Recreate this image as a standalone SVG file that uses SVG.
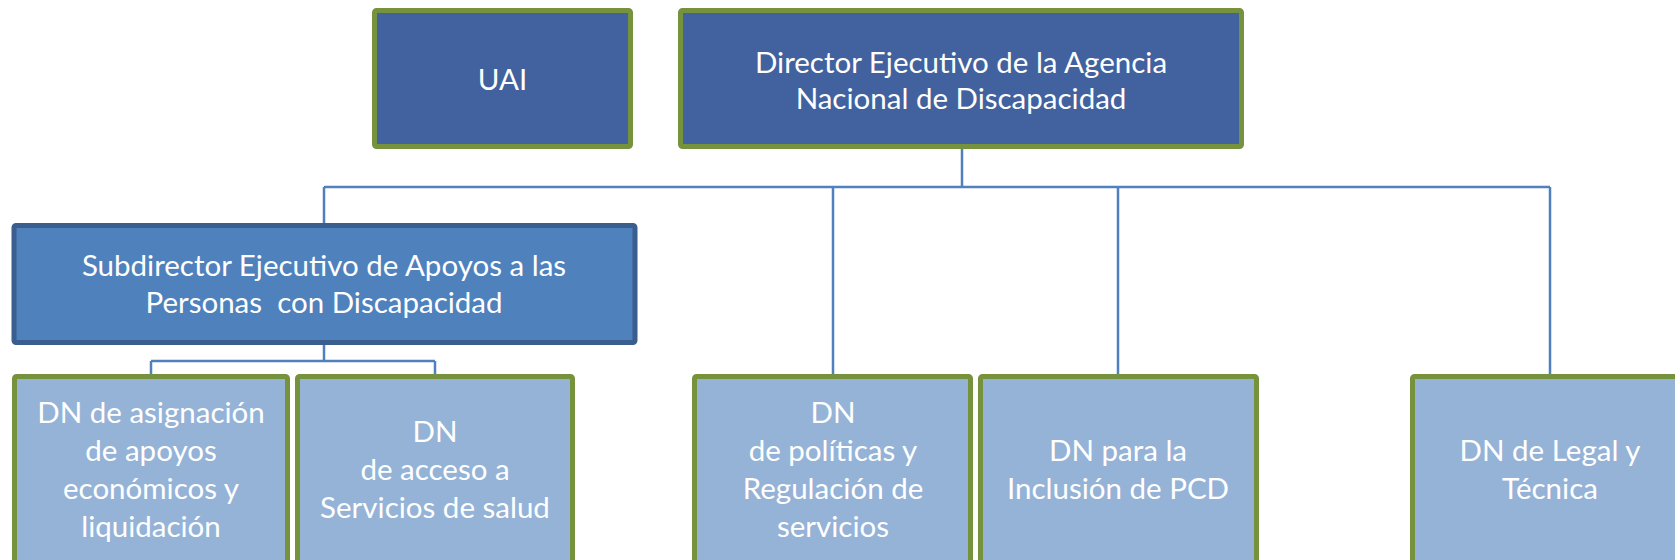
<svg xmlns="http://www.w3.org/2000/svg" width="1675" height="560" viewBox="0 0 1675 560">
<style>
.top{fill:#41629E;stroke:#76923C;stroke-width:5}
.sub{fill:#4F81BD;stroke:#3A5F8F;stroke-width:5}
.dn{fill:#95B3D7;stroke:#76923C;stroke-width:5}
.lbl{font-family:Lato,"Liberation Sans",sans-serif;font-size:29.5px;fill:#FFFFFF;text-anchor:middle}
.con{fill:none;stroke:#4F81BD;stroke-width:2.5}
</style>
<rect width="1675" height="560" fill="#FFFFFF"/>
<g id="connectors">
<path class="con" d="M962 149V187M324 187H1550M324 187V223M833 187V374M1118 187V374M1550 187V374"/>
<path class="con" d="M324 345V361M151 361H435M151 361V374M435 361V374"/>
</g>
<g id="uai">
<rect class="top" x="374.5" y="10.5" width="256" height="136" rx="2"/>
<text class="lbl" x="502.5" y="90">UAI</text>
</g>
<g id="director">
<rect class="top" x="680.5" y="10.5" width="561" height="136" rx="2"/>
<text class="lbl" x="961" y="73">Director Ejecutivo de la Agencia</text>
<text class="lbl" x="961" y="109">Nacional de Discapacidad</text>
</g>
<g id="subdirector">
<rect class="sub" x="14" y="225.5" width="621" height="117" rx="2"/>
<text class="lbl" x="324" y="276">Subdirector Ejecutivo de Apoyos a las</text>
<text class="lbl" x="324" y="313" xml:space="preserve">Personas  con Discapacidad</text>
</g>
<g id="dn-asignacion">
<rect class="dn" x="14.5" y="376.5" width="273" height="200" rx="2"/>
<text class="lbl" x="151" y="423">DN de asignación</text>
<text class="lbl" x="151" y="461">de apoyos</text>
<text class="lbl" x="151" y="499">económicos y</text>
<text class="lbl" x="151" y="537">liquidación</text>
</g>
<g id="dn-salud">
<rect class="dn" x="297.5" y="376.5" width="275" height="200" rx="2"/>
<text class="lbl" x="435" y="442">DN</text>
<text class="lbl" x="435" y="480">de acceso a</text>
<text class="lbl" x="435" y="518">Servicios de salud</text>
</g>
<g id="dn-politicas">
<rect class="dn" x="694.5" y="376.5" width="276" height="200" rx="2"/>
<text class="lbl" x="833" y="423">DN</text>
<text class="lbl" x="833" y="461">de políticas y</text>
<text class="lbl" x="833" y="499">Regulación de</text>
<text class="lbl" x="833" y="537">servicios</text>
</g>
<g id="dn-inclusion">
<rect class="dn" x="980.5" y="376.5" width="276" height="200" rx="2"/>
<text class="lbl" x="1118" y="461">DN para la</text>
<text class="lbl" x="1118" y="499">Inclusión de PCD</text>
</g>
<g id="dn-legal">
<rect class="dn" x="1412.5" y="376.5" width="276" height="200" rx="2"/>
<text class="lbl" x="1550" y="461">DN de Legal y</text>
<text class="lbl" x="1550" y="499">Técnica</text>
</g>
</svg>
